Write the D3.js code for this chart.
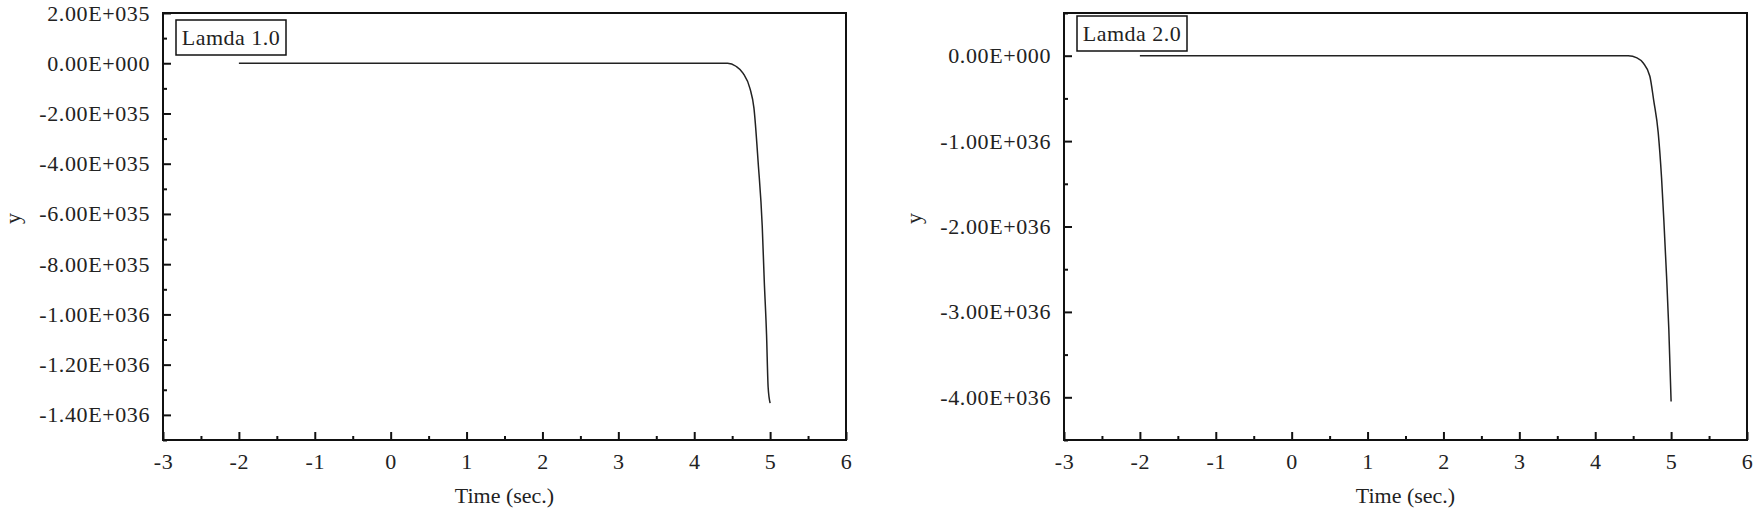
<!DOCTYPE html>
<html>
<head>
<meta charset="utf-8">
<script src="https://cdn.jsdelivr.net/npm/d3@7"></script>
<style>
  body { margin: 0; background: #fff; }
  text { font-family: "Liberation Serif", "Times New Roman", serif; fill: #222; }
</style>
</head>
<body>
<svg id="chart" width="1755" height="517"></svg>
<script>
// time axis, shared by both panels
var xTicks = [-3, -2, -1, 0, 1, 2, 3, 4, 5, 6];

// Lamda 1.0 panel
var lam1Time = [-2, 4.44, 4.55, 4.645, 4.734, 4.787, 4.843, 4.896, 4.922, 4.953, 4.974, 5.0];
var lam1Y = [0, 0, -1.2e34, -4e34, -1e35, -1.79e35, -3.97e35, -6.47e35, -8.6e35, -1.08e36, -1.29e36, -1.353e36];
var lam1YTicks = [2e35, 0, -2e35, -4e35, -6e35, -8e35, -1e36, -1.2e36, -1.4e36];

// Lamda 2.0 panel
var lam2Time = [-2, 4.435, 4.55, 4.633, 4.72, 4.77, 4.83, 4.874, 4.905, 4.94, 4.97, 5.0];
var lam2Y = [0, 0, -2.5e34, -8.6e34, -2.4e35, -5.2e35, -9.0e35, -1.43e36, -1.94e36, -2.58e36, -3.21e36, -4.05e36];
var lam2YTicks = [0, -1e36, -2e36, -3e36, -4e36];

var panels = [
    { name: "Lamda 1.0", left: 163, time: lam1Time, y: lam1Y, yTicks: lam1YTicks, yDomain: [-1.5e36, 2e35], legendY: 7 },
    { name: "Lamda 2.0", left: 1064, time: lam2Time, y: lam2Y, yTicks: lam2YTicks, yDomain: [-4.5e36, 5e35], legendY: 3 }
];

var plotTop = 13, width = 683, height = 427;
var fontSize = 22;

// Origin style: 2.00E+035
function sci(v) {
    if (v === 0) return "0.00E+000";
    var e = Math.floor(Math.log10(Math.abs(v)) + 1e-9);
    var m = v / Math.pow(10, e);
    var sign = e < 0 ? "-" : "+";
    return m.toFixed(2) + "E" + sign + String(Math.abs(e)).padStart(3, "0");
}

function midpoints(arr) {
    var out = [];
    for (var i = 0; i < arr.length - 1; i++) out.push((arr[i] + arr[i + 1]) / 2);
    return out;
}

var svg = d3.select("#chart");

panels.forEach(function (p) {
    var g = svg.append("g").attr("transform", "translate(" + p.left + "," + plotTop + ")");

    var x = d3.scaleLinear().domain([-3, 6]).range([0, width]);
    var y = d3.scaleLinear().domain(p.yDomain).range([height, 0]);

    // minor ticks first
    g.append("g")
        .attr("transform", "translate(0," + height + ")")
        .call(d3.axisBottom(x).tickValues(midpoints(xTicks)).tickSize(-4).tickFormat(""))
        .call(function (a) { a.select(".domain").remove(); });
    var step = p.yTicks[0] - p.yTicks[1];
    var yMinor = midpoints(p.yTicks).concat([p.yTicks[0] + step / 2, p.yTicks[p.yTicks.length - 1] - step / 2])
        .filter(function (v) { return v >= p.yDomain[0] && v <= p.yDomain[1]; });
    g.append("g")
        .call(d3.axisLeft(y).tickValues(yMinor).tickSize(-4).tickFormat(""))
        .call(function (a) { a.select(".domain").remove(); });

    var xAxis = g.append("g")
        .attr("transform", "translate(0," + height + ")")
        .call(d3.axisBottom(x).tickValues(xTicks).tickSize(-8).tickPadding(13)
            .tickFormat(function (d) { return String(d); }));
    xAxis.select(".domain").remove();

    var yAxis = g.append("g")
        .call(d3.axisLeft(y).tickValues(p.yTicks).tickSize(-8).tickPadding(13).tickFormat(sci));
    yAxis.select(".domain").remove();

    g.selectAll(".tick line").attr("stroke", "#111").attr("stroke-width", 2);
    g.selectAll(".tick text")
        .style("font-family", '"Liberation Serif", serif')
        .style("font-size", fontSize + "px")
        .style("letter-spacing", "0.6px")
        .attr("fill", "#222");

    // frame
    g.append("rect")
        .attr("width", width).attr("height", height)
        .attr("fill", "none").attr("stroke", "#111").attr("stroke-width", 2);

    // curve
    var pts = p.time.map(function (t, i) { return [t, p.y[i]]; });
    g.append("path")
        .datum(pts)
        .attr("fill", "none")
        .attr("stroke", "#222")
        .attr("stroke-width", 1.5)
        .attr("d", d3.line()
            .x(function (d) { return x(d[0]); })
            .y(function (d) { return y(d[1]); })
            .curve(d3.curveMonotoneX));

    // legend box
    var lg = g.append("g").attr("transform", "translate(13," + p.legendY + ")");
    lg.append("rect")
        .attr("width", 110).attr("height", 35)
        .attr("fill", "#fff").attr("stroke", "#111").attr("stroke-width", 1.5);
    lg.append("text")
        .attr("x", 55).attr("y", 25)
        .attr("text-anchor", "middle")
        .style("font-size", fontSize + "px")
        .style("letter-spacing", "0.5px")
        .text(p.name);

    // axis titles
    g.append("text")
        .attr("x", width / 2).attr("y", height + 63)
        .attr("text-anchor", "middle")
        .style("font-size", fontSize + "px")
        .text("Time (sec.)");
    g.append("text")
        .attr("transform", "translate(-143," + (height / 2 - 8) + ") rotate(-90)")
        .attr("text-anchor", "middle")
        .style("font-size", fontSize + "px")
        .text("y");
});
</script>
</body>
</html>
